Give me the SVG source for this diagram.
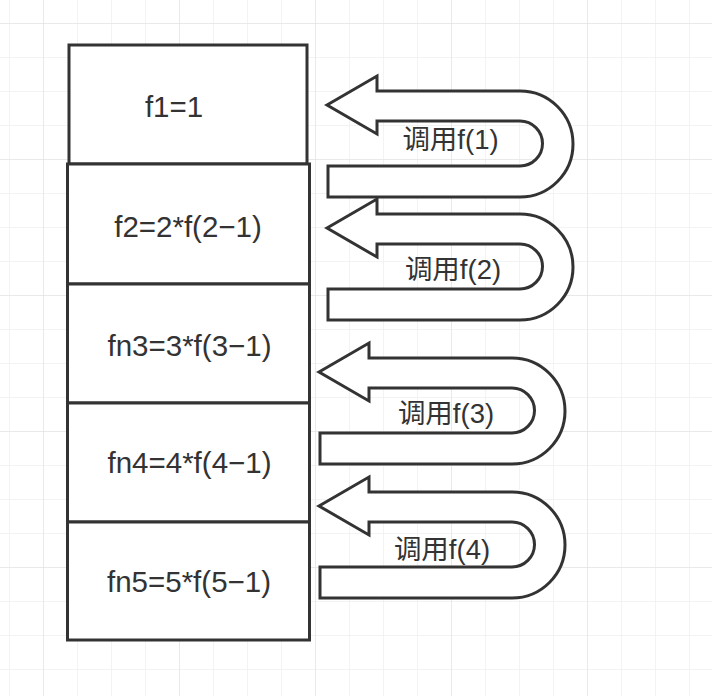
<svg xmlns="http://www.w3.org/2000/svg" width="712" height="696" viewBox="0 0 712 696">
  <defs>
    <pattern id="minor" patternUnits="userSpaceOnUse" x="9" y="23" width="34" height="34">
      <path d="M0,0 H34 M0,0 V34" fill="none" stroke="#efefef" stroke-width="1.5"/>
    </pattern>
    <pattern id="major" patternUnits="userSpaceOnUse" x="43" y="23" width="136" height="136">
      <path d="M0,0 H136 M0,0 V136" fill="none" stroke="#e6e6e6" stroke-width="1.5"/>
    </pattern>
    <path id="uarrow" d="M327,105 L377,76 L377,91 L520,91 A53,53 0 0 1 520,197 L328,197 L328,166 L520,166 A22.5,22.5 0 0 0 520,121 L377,121 L377,134 Z"/>
  </defs>
  <style>
    .box { fill: #ffffff; stroke: #333333; stroke-width: 3; }
    .arrow { fill: #ffffff; stroke: #333333; stroke-width: 3; stroke-linejoin: miter; }
    .t { font-family: "Liberation Sans", "Noto Sans CJK SC", sans-serif; font-size: 29.5px; fill: #333333; text-anchor: middle; }
    .lbl { font-family: "Liberation Sans", "Noto Sans CJK SC", sans-serif; font-size: 27.5px; fill: #333333; text-anchor: middle; }
  </style>
  <rect width="712" height="696" fill="#ffffff"/>
  <rect width="712" height="696" fill="url(#minor)"/>
  <rect width="712" height="696" fill="url(#major)"/>

  <g id="node-f1">
    <rect class="box" x="69" y="45" width="238" height="119"/>
    <text class="t" x="174" y="117">f1=1</text>
  </g>
  <g id="node-f2">
    <rect class="box" x="67.5" y="164" width="242" height="120"/>
    <text class="t" x="188" y="237">f2=2*f(2−1)</text>
  </g>
  <g id="node-f3">
    <rect class="box" x="67.5" y="284" width="242" height="119"/>
    <text class="t" x="189.5" y="356">fn3=3*f(3−1)</text>
  </g>
  <g id="node-f4">
    <rect class="box" x="67.5" y="403" width="242" height="119"/>
    <text class="t" x="189.5" y="473">fn4=4*f(4−1)</text>
  </g>
  <g id="node-f5">
    <rect class="box" x="67.5" y="522" width="242" height="118"/>
    <text class="t" x="189" y="592">fn5=5*f(5−1)</text>
  </g>

  <g id="connectors">
    <g id="call-f1">
      <use href="#uarrow" class="arrow"/>
      <text class="lbl" x="450.5" y="149">调用f(1)</text>
    </g>
    <g id="call-f2">
      <use href="#uarrow" class="arrow" transform="translate(0,123)"/>
      <text class="lbl" x="453" y="279">调用f(2)</text>
    </g>
    <g id="call-f3">
      <use href="#uarrow" class="arrow" transform="translate(-8,267)"/>
      <text class="lbl" x="446" y="423">调用f(3)</text>
    </g>
    <g id="call-f4">
      <use href="#uarrow" class="arrow" transform="translate(-8,401)"/>
      <text class="lbl" x="442" y="559">调用f(4)</text>
    </g>
  </g>
</svg>
